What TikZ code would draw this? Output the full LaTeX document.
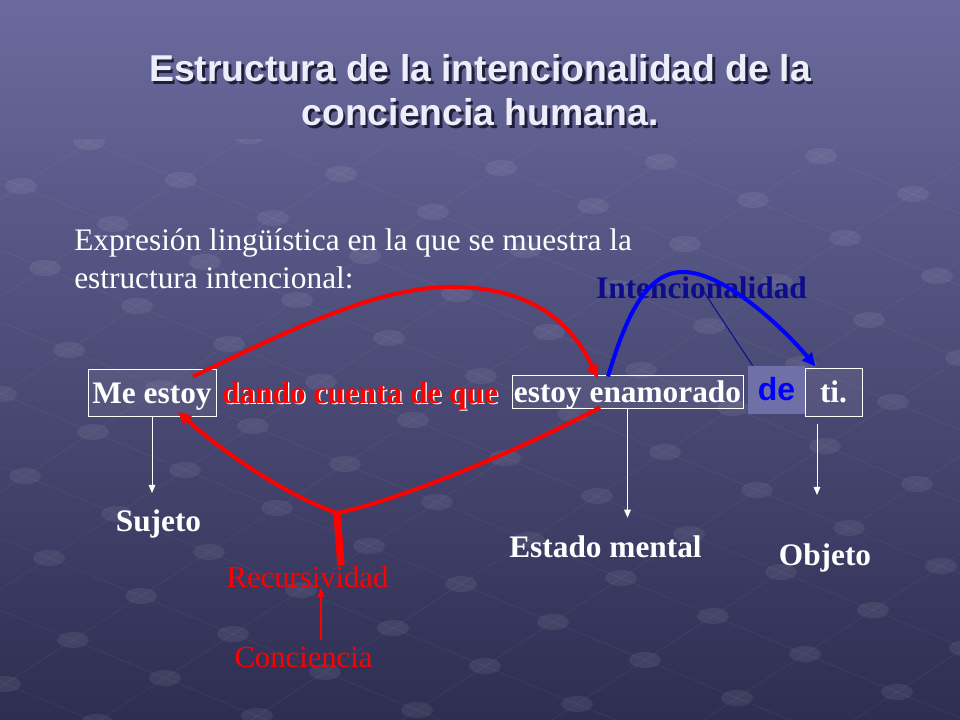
\documentclass[tikz,border=0pt]{standalone}
\usepackage{fontspec}
\setmainfont{Liberation Serif}
\newfontfamily\titlefont{Liberation Sans}
\usetikzlibrary{arrows.meta,calc,positioning}

\definecolor{bglight}{HTML}{6A6A9E}
\definecolor{bgdark}{HTML}{2E2E52}
\definecolor{titlewhite}{HTML}{EEEEFA}
\definecolor{titleshade}{HTML}{1E1E3A}
\definecolor{intblue}{HTML}{0C0C8C}
\definecolor{arcblue}{HTML}{0000FF}
\definecolor{defill}{HTML}{7070A8}

% text with an offset copy behind it
\newcommand{\shadowed}[3]{\rlap{\hspace{#2}\raisebox{-#2}{\color{#1}#3}}#3}

\tikzset{
  titletxt/.style={font=\titlefont\bfseries\fontsize{28}{33}\selectfont, text=titlewhite, inner sep=0pt, anchor=base},
  bodytxt/.style={font=\fontsize{23.5}{28}\selectfont, text=white, inner sep=0pt, anchor=base west},
  rowfont/.style={font=\bfseries\fontsize{23.5}{28}\selectfont},
  wordbox/.style={rowfont, text=white, draw=white, line width=0.75pt, fill=white, fill opacity=0.07, text opacity=1,
    inner sep=0pt, text height=18.75pt, text depth=3pt, anchor=base},
  wlabel/.style={rowfont, text=white, inner sep=0pt, anchor=base},
  redlabel/.style={font=\fontsize{23}{27}\selectfont, text=red, inner sep=0pt, anchor=base},
  downarrow/.style={draw=white, line width=0.75pt, -{Triangle[length=6pt,width=5pt]}},
  redarc/.style={draw=red, line width=3pt, -{Triangle[length=10pt,width=9pt]}},
  bluearc/.style={draw=arcblue, line width=3pt, -{Triangle[length=10pt,width=9pt]}},
}

\begin{document}
\begin{tikzpicture}[x=0.75pt, y=-0.75pt]
% background
\useasboundingbox (0,0) rectangle (960,720);
\shade[shading angle=30, top color=bglight, bottom color=bgdark] (0,0) rectangle (960,720);
\begin{scope}
  \clip (0,140) rectangle (960,720);
  \foreach \j in {-10,...,10}
    \draw[white, opacity=0.045, line width=0.75pt] ({413-736-68*\j},{420-304+44*\j}) -- ({413+736-68*\j},{420+304+44*\j});
  \foreach \i in {-10,...,10}
    \draw[white, opacity=0.045, line width=0.75pt] ({413+92*\i+680},{420+38*\i-440}) -- ({413+92*\i-680},{420+38*\i+440});
  \foreach \i in {-10,...,10}
    \foreach \j in {-10,...,10}
      \fill[white, opacity=0.07] ({413+92*\i-68*\j},{420+38*\i+44*\j}) ellipse [x radius=16, y radius=8];
\end{scope}

% title
\node[titletxt] (title1) at (480,82) {\shadowed{titleshade}{1.9pt}{Estructura de la intencionalidad de la}};
\node[titletxt] (title2) at (480,126) {\shadowed{titleshade}{1.9pt}{conciencia humana.}};

% expression
\node[bodytxt] (expr1) at (74,251) {Expresión lingüística en la que se muestra la};
\node[bodytxt] (expr2) at (74,288) {estructura intencional:};

% sentence
\node[wordbox, minimum width=96pt, minimum height=35.25pt] (meestoy) at (152,403) {Me estoy};
\node[rowfont, text=red, inner sep=0pt, anchor=base] (dando) at (360,403) {\shadowed{white}{1.1pt}{dando cuenta de que}};
\node[wordbox, minimum width=173.25pt, minimum height=24.75pt] (enamorado) at (627.5,402) {estoy enamorado};
\node[wordbox, draw=none, fill=defill, fill opacity=1, minimum width=42.75pt, minimum height=36pt,
  font=\titlefont\bfseries\fontsize{24}{28}\selectfont, text=arcblue] (de) at (776.5,400.5) {de};
\node[wordbox, minimum width=42.75pt, minimum height=36pt] (ti) at (833.5,402.5) {ti.};

% labels
\node[wlabel] (sujeto) at (158.5,531) {Sujeto};
\node[wlabel] (estado) at (605.5,557) {Estado mental};
\node[wlabel] (objeto) at (825,565) {Objeto};
\node[wlabel, text=intblue] (intenc) at (701.5,299) {Intencionalidad};
\node[redlabel] (recurs) at (307.5,587) {Recursividad};
\node[redlabel] (conc) at (303.5,667) {Conciencia};

% arrows down
\coordinate (tibelow) at ($(ti.south)+(-16.5,7)$);
\coordinate (concup) at ($(conc.north)+(17.5,-6)$);
\draw[downarrow, shorten >=12pt] (meestoy.south) -- (meestoy.south |- sujeto.north);
\draw[downarrow, shorten >=13pt] (enamorado.south) -- (enamorado.south |- estado.north);
\draw[downarrow, shorten >=36pt] (tibelow) -- (tibelow |- objeto.north);
\draw[red, line width=1.1pt, -{Triangle[length=7pt,width=5pt]}] (concup) -- (concup |- recurs.south);

% intencionalidad
\draw[intblue, line width=0.75pt] (intenc.center) -- ($(de.north west)+(5,0)$);
\draw[bluearc] ($(enamorado.north)+(-19.5,2)$) .. controls (625,320) and (645,272) .. (683,272)
  .. controls (725,272) and (785,330) .. ($(ti.north west)+(11,-1)$);

% recursividad
\draw[redarc] ($(meestoy.north)+(41,8)$) .. controls (290,330) and (380,285) .. (457,287)
  .. controls (540,289) and (575,330) .. ($(enamorado.north)+(-29.5,4)$);
\coordinate (junct) at (337,513);
\draw[red, line width=5.5pt] ($(recurs.north)+(33.5,0)$) -- (junct);
\draw[redarc] (junct) .. controls (285,495) and (220,450) .. ($(meestoy.south)+(26,-5)$);
\draw[red, line width=3pt] (junct) .. controls (400,500) and (520,450) .. ($(enamorado.south)+(-27.5,-1)$);
\end{tikzpicture}
\end{document}
